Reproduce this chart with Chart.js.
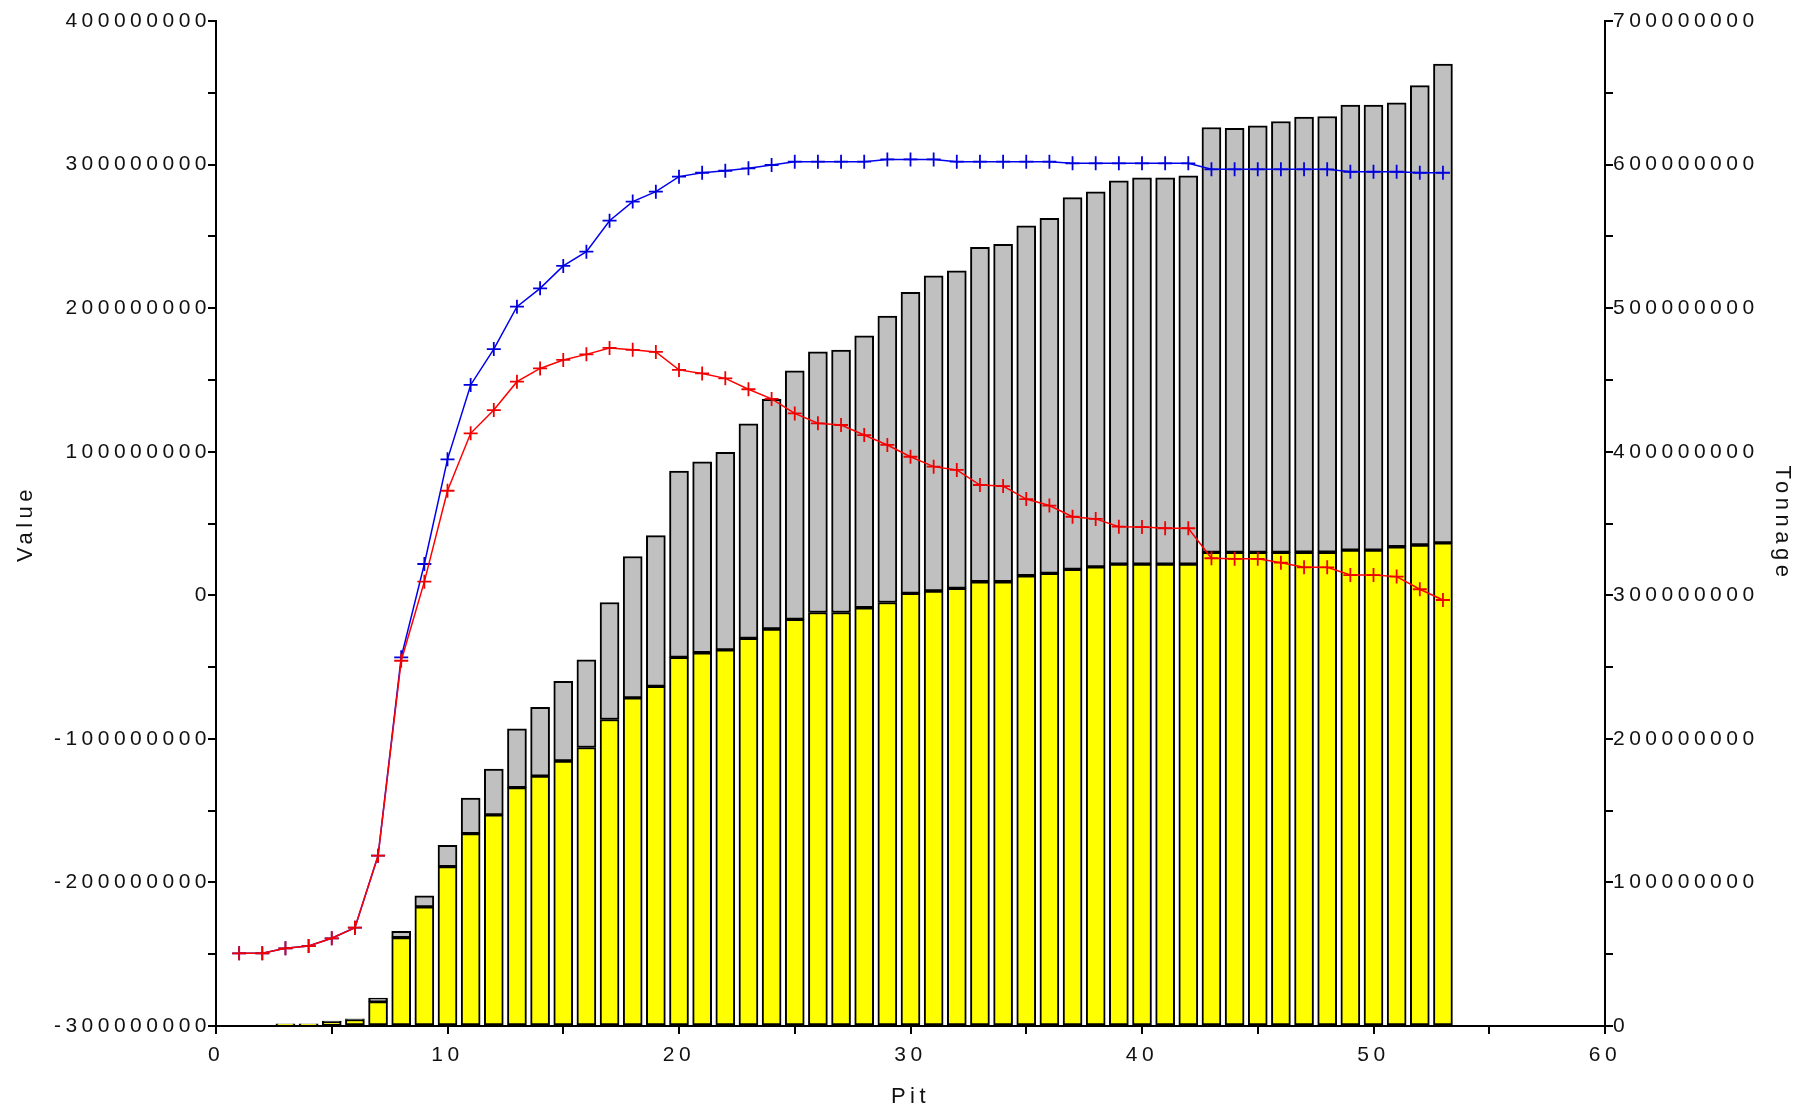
<!DOCTYPE html>
<html>
<head>
<meta charset="utf-8">
<script src="https://cdn.jsdelivr.net/npm/chart.js@4.4.1/dist/chart.umd.min.js"></script>
<style>
  html, body { margin: 0; padding: 0; background: #fff; }
  #wrap { width: 1814px; height: 1114px; }
</style>
</head>
<body>
<div id="wrap"><canvas id="grafico" width="1814" height="1114"></canvas></div>
<script>
// valores em milhoes
const MILHAO = 1000000;

const pits = [1, 2, 3, 4, 5, 6, 7, 8, 9, 10, 11, 12, 13, 14, 15, 16, 17, 18, 19, 20,
  21, 22, 23, 24, 25, 26, 27, 28, 29, 30, 31, 32, 33, 34, 35, 36, 37, 38, 39, 40,
  41, 42, 43, 44, 45, 46, 47, 48, 49, 50, 51, 52, 53];

// Tonnage (eixo direito) - parte amarela e parte cinza empilhadas
const oreTonnage = [0, 0, 1.2, 1.2, 3, 4.5, 17, 61.6, 83, 111, 134, 147, 166, 174, 184.6, 194, 213.5, 228.5, 236.5, 256.8,
  260, 262, 270, 276.5, 283.2, 288, 288, 291.3, 295, 301.3, 303, 304.8, 309.4, 309.4, 313.6, 315.3, 318, 319.8, 321.7, 321.7,
  321.7, 321.7, 329.9, 329.9, 329.9, 329.9, 330, 330, 331.5, 331.5, 333.8, 335, 336.5];

const wasteTonnage = [0, 0, 0.3, 0.3, 0.5, 0.5, 2.5, 4.4, 7.6, 14.8, 24.8, 32, 41, 48, 55.4, 61, 81.5, 98.5, 105, 129.7,
  133, 137.5, 149.5, 159.9, 173.1, 181.6, 182.8, 189.4, 199.4, 209.7, 219.5, 221.2, 232.9, 235, 243.7, 247.2, 259, 261.2, 266.9, 269,
  269, 270.4, 295.9, 295.4, 297.1, 300.1, 303, 303.5, 310, 310, 309.2, 320, 333.5];

// Value (eixo esquerdo)
const valorAzul = [-249.4, -249.4, -245.9, -244.3, -238.9, -231.5, -181.4, -43.2, 21.8, 94.7, 146.5, 171.5, 201, 213.8, 229.4, 239.3, 260.9, 274.2, 281.1, 291.6,
  294.3, 295.7, 297.4, 299.7, 302, 302, 302, 302, 303.6, 303.6, 303.6, 302, 302, 302, 302, 302, 300.9, 300.9, 300.9, 300.9,
  300.9, 300.9, 296.7, 296.7, 296.7, 296.7, 296.7, 296.7, 295, 295, 295, 294.3, 294.3];

const valorVermelho = [-249.4, -249.4, -245.9, -244.3, -238.9, -231.5, -181.4, -45.6, 9.5, 72.8, 112.8, 129, 148.8, 158, 163.9, 167.8, 172.3, 171, 169.5, 157,
  154.5, 151.1, 143.5, 136.8, 126.7, 119.8, 118.6, 111.6, 104.7, 96.5, 89.6, 87.3, 76.8, 76.1, 67, 62.5, 54.7, 53.2, 47.8, 47.5,
  46.7, 46.7, 25.8, 25.4, 25.4, 22.7, 19.5, 19.5, 14.1, 14.1, 13, 4.2, -3.3];

const pontos = (serie) => pits.map((p, i) => ({ x: p, y: serie[i] * MILHAO }));

const fonteTick = { family: 'Liberation Sans, Arial, sans-serif', size: 21 };
const fonteTitulo = { family: 'Liberation Sans, Arial, sans-serif', size: 22 };
const corTexto = '#111';

// espacamento das letras (o original tem texto bem espaçado)
const espacamento = {
  id: 'espacamento',
  beforeLayout(chart) { chart.ctx.letterSpacing = '4.5px'; },
  beforeDraw(chart) { chart.ctx.letterSpacing = '4.5px'; }
};

const rotuloCem = (v) => (Math.round(v) % 100000000 === 0 ? String(Math.round(v)) : '');

new Chart(document.getElementById('grafico'), {
  type: 'bar',
  data: {
    datasets: [
      {
        type: 'line',
        data: pontos(valorVermelho),
        yAxisID: 'y',
        borderColor: '#ff0000',
        borderWidth: 1.5,
        pointStyle: 'cross',
        pointRadius: 7,
        pointBorderWidth: 1.8,
        pointBorderColor: '#ee0000',
        tension: 0,
        order: 0
      },
      {
        type: 'line',
        data: pontos(valorAzul),
        yAxisID: 'y',
        borderColor: '#0000ee',
        borderWidth: 1.5,
        pointStyle: 'cross',
        pointRadius: 7,
        pointBorderWidth: 1.8,
        pointBorderColor: '#0000dd',
        tension: 0,
        order: 1
      },
      {
        data: pontos(oreTonnage),
        yAxisID: 'y2',
        backgroundColor: '#ffff00',
        borderColor: '#000000',
        borderWidth: 2,
        borderSkipped: false,
        barThickness: 19,
        order: 2
      },
      {
        data: pontos(wasteTonnage),
        yAxisID: 'y2',
        backgroundColor: '#c0c0c0',
        borderColor: '#000000',
        borderWidth: 2,
        borderSkipped: false,
        barThickness: 19,
        order: 3
      }
    ]
  },
  options: {
    responsive: false,
    animation: false,
    layout: { padding: { top: 21, left: 0, right: 0, bottom: 0 } },
    plugins: { legend: { display: false }, tooltip: { enabled: false } },
    scales: {
      x: {
        type: 'linear',
        min: 0,
        max: 60,
        offset: false,
        stacked: true,
        grid: { drawOnChartArea: false, offset: false, color: '#000', tickLength: 8, lineWidth: 2 },
        border: { color: '#000', width: 2 },
        ticks: {
          stepSize: 5,
          autoSkip: false,
          maxRotation: 0,
          padding: 9,
          color: corTexto,
          font: fonteTick,
          callback: (v) => (v % 10 === 0 ? String(v) : '')
        },
        title: { display: true, text: 'Pit', color: corTexto, font: fonteTitulo, padding: { top: 4, bottom: 4 } },
        afterFit: (s) => { s.height = 88; }
      },
      y: {
        position: 'left',
        min: -300000000,
        max: 400000000,
        grid: { drawOnChartArea: false, color: '#000', tickLength: 8, lineWidth: 2 },
        border: { color: '#000', width: 2 },
        ticks: {
          stepSize: 50000000,
          autoSkip: false,
          padding: -3,
          color: corTexto,
          font: fonteTick,
          callback: rotuloCem
        },
        title: { display: true, text: 'Value', color: corTexto, font: fonteTitulo, padding: { top: 13, bottom: 0 } },
        afterFit: (s) => { s.width = 216; }
      },
      y2: {
        position: 'right',
        min: 0,
        max: 700000000,
        stacked: true,
        grid: { drawOnChartArea: false, color: '#000', tickLength: 8, lineWidth: 2 },
        border: { color: '#000', width: 2 },
        ticks: {
          stepSize: 50000000,
          autoSkip: false,
          padding: 0,
          color: corTexto,
          font: fonteTick,
          callback: rotuloCem
        },
        title: { display: true, text: 'Tonnage', color: corTexto, font: fonteTitulo, padding: { top: 19, bottom: 0 } },
        afterFit: (s) => { s.width = 209; }
      }
    }
  },
  plugins: [espacamento]
});
</script>
</body>
</html>
